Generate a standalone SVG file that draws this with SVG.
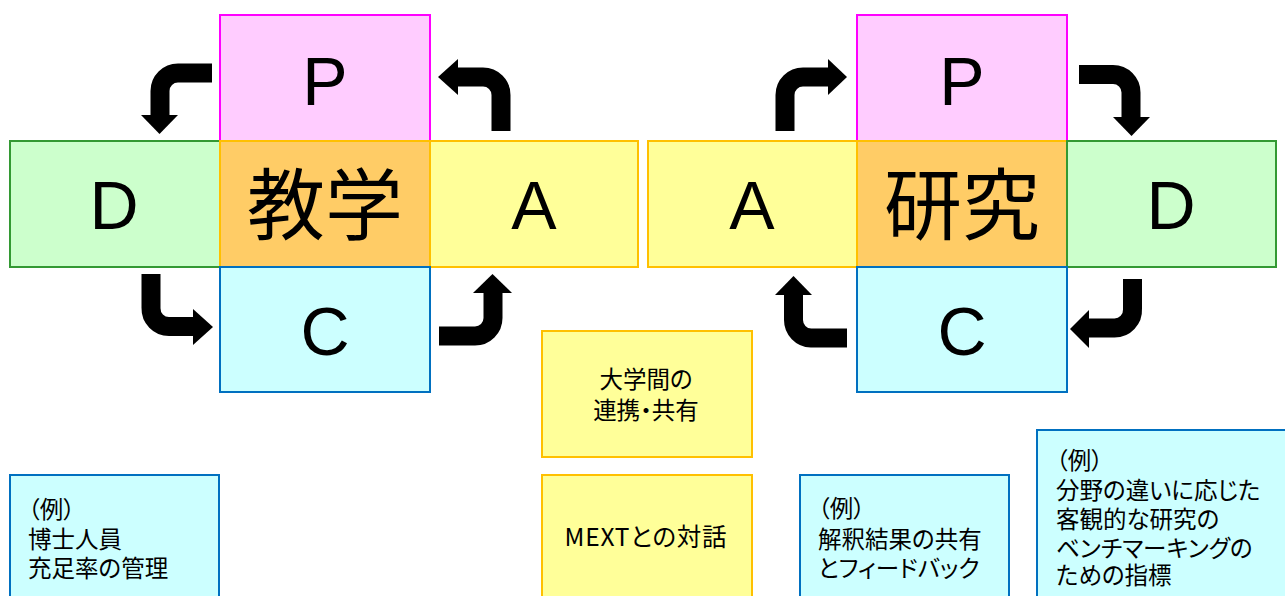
<svg xmlns="http://www.w3.org/2000/svg" width="1285" height="596" viewBox="0 0 1285 596">
<style>
.p{fill:#FFCCFF;stroke:#FF00FF;stroke-width:2}
.d{fill:#CCFFCC;stroke:#339933;stroke-width:2}
.k{fill:#FFCC66;stroke:#FFC000;stroke-width:2}
.a{fill:#FFFF99;stroke:#FFC000;stroke-width:2}
.c{fill:#CCFFFF;stroke:#0070C0;stroke-width:2}
.big{font-family:"Liberation Sans",Arial,sans-serif;font-size:68px;fill:#000;text-anchor:middle}
.kanji{font-family:"Noto Sans CJK JP","Noto Sans CJK SC",sans-serif;font-size:78px;fill:#000;text-anchor:middle}
.t{font-family:"Noto Sans CJK JP","Noto Sans CJK SC",sans-serif;font-size:23.5px;fill:#000;font-feature-settings:"palt"}
.tm{text-anchor:middle}
.shaft{fill:none;stroke:#000;stroke-width:19}
.head{fill:#000}
</style>
<rect width="1285" height="596" fill="#fff"/>

<g id="left-P"><rect class="p" x="220" y="15" width="210" height="126"/><text class="big" x="325" y="105">P</text></g>
<g id="left-D"><rect class="d" x="10" y="141" width="210" height="126"/><text class="big" x="114" y="229">D</text></g>
<g id="left-center"><rect class="k" x="220" y="141" width="210" height="126"/><text class="kanji" x="325" y="234">教学</text></g>
<g id="left-A"><rect class="a" x="430" y="141" width="208" height="126"/><text class="big" x="534" y="229">A</text></g>
<g id="left-C"><rect class="c" x="220" y="267" width="210" height="125"/><text class="big" x="325" y="355">C</text></g>

<g id="right-A"><rect class="a" x="648" y="141" width="209" height="126"/><text class="big" x="752" y="229">A</text></g>
<g id="right-P"><rect class="p" x="857" y="15" width="210" height="126"/><text class="big" x="962" y="105">P</text></g>
<g id="right-center"><rect class="k" x="857" y="141" width="210" height="126"/><text class="kanji" x="962" y="234">研究</text></g>
<g id="right-D"><rect class="d" x="1067" y="141" width="209" height="126"/><text class="big" x="1171" y="229">D</text></g>
<g id="right-C"><rect class="c" x="857" y="267" width="210" height="125"/><text class="big" x="962" y="355">C</text></g>

<g id="mid-1"><rect class="a" x="542" y="331" width="210" height="126"/>
<text class="t tm"><tspan x="646" y="388">大学間の</tspan><tspan x="646" y="419">連携・共有</tspan></text></g>
<g id="mid-2"><rect class="a" x="542" y="475" width="210" height="140"/>
<text class="t tm" x="646" y="546" style="font-size:24.5px;letter-spacing:0.8px">MEXTとの対話</text></g>

<g id="note-left"><rect class="c" x="10" y="475" width="209" height="140"/>
<text class="t"><tspan x="28" y="518">（例）</tspan><tspan x="28" y="548">博士人員</tspan><tspan x="28" y="577">充足率の管理</tspan></text></g>
<g id="note-mid"><rect class="c" x="800" y="475" width="209" height="140"/>
<text class="t"><tspan x="818" y="517">（例）</tspan><tspan x="818" y="548">解釈結果の共有</tspan><tspan x="818" y="577">とフィードバック</tspan></text></g>
<g id="note-right"><rect class="c" x="1037" y="430" width="260" height="185"/>
<text class="t"><tspan x="1056" y="469">（例）</tspan><tspan x="1056" y="499">分野の違いに応じた</tspan><tspan x="1056" y="528">客観的な研究の</tspan><tspan x="1056" y="557">ベンチマーキングの</tspan><tspan x="1056" y="584">ための指標</tspan></text></g>

<g id="connectors">
<path class="shaft" d="M212,73 H178 A18,18 0 0 0 160,91 V116"/>
<polygon class="head" points="141,115 178,115 159.5,134"/>
<path class="shaft" d="M501,131 V95 A18,18 0 0 0 483,77 H457"/>
<polygon class="head" points="458,59 458,95 438,77"/>
<path class="shaft" d="M151,274 V308 A18,18 0 0 0 169,326.5 H194"/>
<polygon class="head" points="193,309 193,345 213,327"/>
<path class="shaft" d="M439,336 H475 A18,18 0 0 0 493,318 V292"/>
<polygon class="head" points="473,293 512,293 492.5,274"/>
<path class="shaft" d="M785,131 V95 A18,18 0 0 1 803,77 H829"/>
<polygon class="head" points="828,59 828,95 847,77"/>
<path class="shaft" d="M1079,74.5 H1113 A18,18 0 0 1 1131,92.5 V118"/>
<polygon class="head" points="1113,117 1150,117 1131.5,136"/>
<path class="shaft" d="M847,338 H811 A18,18 0 0 1 793.5,320 V294"/>
<polygon class="head" points="775,295 812,295 793.5,276"/>
<path class="shaft" d="M1132.5,279 V309 A18,18 0 0 1 1114.5,328 H1088"/>
<polygon class="head" points="1089,310 1089,348 1070,329"/>
</g>
</svg>
